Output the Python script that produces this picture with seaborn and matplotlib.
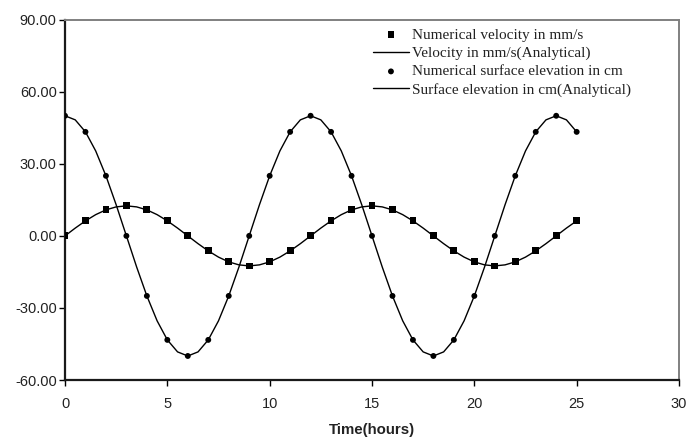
import matplotlib
matplotlib.use("Agg")
import matplotlib.pyplot as plt
from matplotlib.ticker import StrMethodFormatter
import seaborn as sns
import pandas as pd

# ---- data ----
hours = [0, 1, 2, 3, 4, 5, 6, 7, 8, 9, 10, 11, 12,
         13, 14, 15, 16, 17, 18, 19, 20, 21, 22, 23, 24, 25]
num_velocity = [0.0, 6.25, 10.83, 12.5, 10.83, 6.25, 0.0, -6.25, -10.83, -12.5, -10.83, -6.25, 0.0,
                6.25, 10.83, 12.5, 10.83, 6.25, 0.0, -6.25, -10.83, -12.5, -10.83, -6.25, 0.0, 6.25]
num_elevation = [50.0, 43.3, 25.0, 0.0, -25.0, -43.3, -50.0, -43.3, -25.0, 0.0, 25.0, 43.3, 50.0,
                 43.3, 25.0, 0.0, -25.0, -43.3, -50.0, -43.3, -25.0, 0.0, 25.0, 43.3, 50.0, 43.3]

hours_fine = [0, 0.5, 1, 1.5, 2, 2.5, 3, 3.5, 4, 4.5, 5, 5.5, 6, 6.5, 7, 7.5, 8, 8.5, 9, 9.5,
              10, 10.5, 11, 11.5, 12, 12.5, 13, 13.5, 14, 14.5, 15, 15.5, 16, 16.5, 17, 17.5,
              18, 18.5, 19, 19.5, 20, 20.5, 21, 21.5, 22, 22.5, 23, 23.5, 24, 24.5, 25]
ana_velocity = [0.0, 3.24, 6.25, 8.84, 10.83, 12.07, 12.5, 12.07, 10.83, 8.84, 6.25, 3.24,
                0.0, -3.24, -6.25, -8.84, -10.83, -12.07, -12.5, -12.07, -10.83, -8.84, -6.25, -3.24,
                0.0, 3.24, 6.25, 8.84, 10.83, 12.07, 12.5, 12.07, 10.83, 8.84, 6.25, 3.24,
                0.0, -3.24, -6.25, -8.84, -10.83, -12.07, -12.5, -12.07, -10.83, -8.84, -6.25, -3.24,
                0.0, 3.24, 6.25]
ana_elevation = [50.0, 48.3, 43.3, 35.36, 25.0, 12.94, 0.0, -12.94, -25.0, -35.36, -43.3, -48.3,
                 -50.0, -48.3, -43.3, -35.36, -25.0, -12.94, 0.0, 12.94, 25.0, 35.36, 43.3, 48.3,
                 50.0, 48.3, 43.3, 35.36, 25.0, 12.94, 0.0, -12.94, -25.0, -35.36, -43.3, -48.3,
                 -50.0, -48.3, -43.3, -35.36, -25.0, -12.94, 0.0, 12.94, 25.0, 35.36, 43.3, 48.3,
                 50.0, 48.3, 43.3]

labels = ["Numerical velocity in mm/s", "Velocity in mm/s(Analytical)",
          "Numerical surface elevation in cm", "Surface elevation in cm(Analytical)"]
x_ticks = [0, 5, 10, 15, 20, 25, 30]
y_ticks = [-60, -30, 0, 30, 60, 90]

sns.set_style("white")
plt.rcParams["font.family"] = ["Liberation Sans", "DejaVu Sans"]
plt.rcParams["axes.unicode_minus"] = False

num_df = pd.DataFrame({"t": hours, "v": num_velocity, "e": num_elevation})
ana_df = pd.DataFrame({"t": hours_fine, "v": ana_velocity, "e": ana_elevation})

fig = plt.figure(figsize=(6.88, 4.37), dpi=100)
ax = fig.add_axes([65 / 688, 57 / 437, (679 - 65) / 688, (380 - 19.7) / 437])

sns.scatterplot(data=num_df, x="t", y="v", marker="s", color="black", s=24,
                edgecolor="none", ax=ax, label=labels[0], zorder=3)
sns.lineplot(data=ana_df, x="t", y="v", color="black", linewidth=1.0, ax=ax,
             label=labels[1], zorder=2)
sns.scatterplot(data=num_df, x="t", y="e", marker="o", color="black", s=18,
                edgecolor="none", ax=ax, label=labels[2], zorder=3)
sns.lineplot(data=ana_df, x="t", y="e", color="black", linewidth=1.0, ax=ax,
             label=labels[3], zorder=2)

ax.set_xlim(0, 30)
ax.set_ylim(-60, 90)
ax.set_xticks(x_ticks)
ax.set_yticks(y_ticks)
ax.yaxis.set_major_formatter(StrMethodFormatter("{x:.2f}"))
ax.tick_params(axis="both", which="major", bottom=True, left=True, top=False, right=False,
               direction="out", length=4, width=1, color="black",
               labelsize=10.5, labelcolor="#222222")
ax.tick_params(axis="y", pad=2)
ax.tick_params(axis="x", pad=8)

for s in ["left", "bottom"]:
    ax.spines[s].set_color("#1a1a1a")
    ax.spines[s].set_linewidth(1.6)
for s in ["top", "right"]:
    ax.spines[s].set_color("#808080")
    ax.spines[s].set_linewidth(1.4)

ax.set_xlabel("Time(hours)", fontsize=10.8, fontweight="bold", labelpad=9, color="#222222")
ax.set_ylabel("")

leg = ax.legend(loc="upper left", bbox_to_anchor=(373 / 688, 1 - 28 / 437),
                bbox_transform=fig.transFigure, frameon=False, borderpad=0,
                borderaxespad=0, handlelength=2.35, handletextpad=0.2, labelspacing=0.3,
                prop={"family": "Liberation Serif", "size": 11})
for t in leg.get_texts():
    t.set_color("#222222")

fig.savefig("out.png", dpi=100)
